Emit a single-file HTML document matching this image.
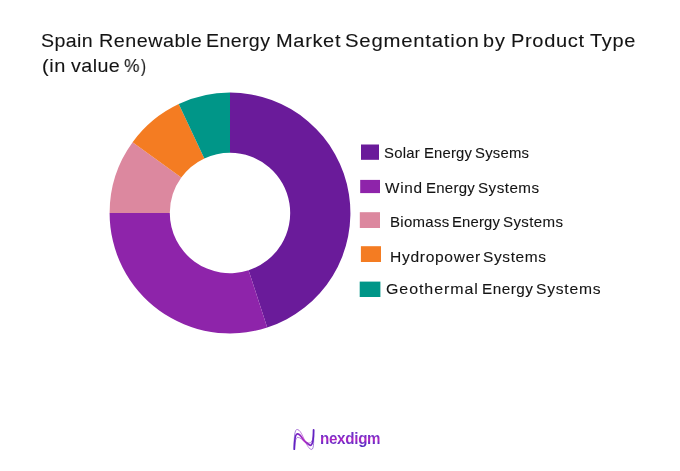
<!DOCTYPE html>
<html><head><meta charset="utf-8">
<style>
html,body{margin:0;padding:0;background:#fff;}
body{width:680px;height:471px;position:relative;overflow:hidden;font-family:"Liberation Sans",sans-serif;color:#141414;}
.w{position:absolute;white-space:nowrap;line-height:1;will-change:transform;-webkit-text-stroke:0.1px #141414;}
.sq{position:absolute;}
svg{position:absolute;left:0;top:0;}
.logo{position:absolute;left:320px;top:431px;font-size:16px;font-weight:bold;line-height:1;letter-spacing:-0.33px;transform:scaleX(0.95);transform-origin:0 0;white-space:nowrap;
background:linear-gradient(180deg,#7030c8 0%,#7030c8 28%,#b524c2 56%,#6a2cc6 74%,#4e28c0 100%);-webkit-background-clip:text;background-clip:text;color:transparent;}
</style></head><body>
<svg width="680" height="471" viewBox="0 0 680 471">
<path d="M230.00,92.60A120.4,120.4 0 0 1 267.21,327.51L248.60,270.25A60.2,60.2 0 0 0 230.00,152.80Z" fill="#6a1b9a"/>
<path d="M267.21,327.51A120.4,120.4 0 0 1 109.60,213.00L169.80,213.00A60.2,60.2 0 0 0 248.60,270.25Z" fill="#8e24aa"/>
<path d="M109.60,213.00A120.4,120.4 0 0 1 132.59,142.23L181.30,177.62A60.2,60.2 0 0 0 169.80,213.00Z" fill="#dc889f"/>
<path d="M132.59,142.23A120.4,120.4 0 0 1 178.74,104.06L204.37,158.53A60.2,60.2 0 0 0 181.30,177.62Z" fill="#f47c22"/>
<path d="M178.74,104.06A120.4,120.4 0 0 1 230.00,92.60L230.00,152.80A60.2,60.2 0 0 0 204.37,158.53Z" fill="#009688"/>
<rect x="361" y="144.5" width="18" height="15.3" fill="#6a1b9a"/>
<rect x="360.2" y="179.9" width="19.8" height="13.2" fill="#8e24aa"/>
<rect x="359.8" y="212.2" width="20.2" height="15.8" fill="#dc889f"/>
<rect x="360.9" y="246.2" width="20.1" height="15.8" fill="#f47c22"/>
<rect x="359.7" y="281.6" width="20.7" height="15.4" fill="#009688"/>
</svg>
<span class="w" style="left:41.07px;top:31px;font-size:19px;letter-spacing:0.363px;transform:scaleX(1.031);transform-origin:0 0">Spain</span>
<span class="w" style="left:98.56px;top:31px;font-size:19px;letter-spacing:0.463px;transform:scaleX(1.040);transform-origin:0 0">Renewable</span>
<span class="w" style="left:206.17px;top:31px;font-size:19px;letter-spacing:0.360px;transform:scaleX(1.031);transform-origin:0 0">Energy</span>
<span class="w" style="left:275.55px;top:31px;font-size:19px;letter-spacing:0.620px;transform:scaleX(1.054);transform-origin:0 0">Market</span>
<span class="w" style="left:345.03px;top:31px;font-size:19px;letter-spacing:0.723px;transform:scaleX(1.069);transform-origin:0 0">Segmentation</span>
<span class="w" style="left:483.21px;top:31px;font-size:19px;letter-spacing:0.825px;transform:scaleX(1.043);transform-origin:0 0">by</span>
<span class="w" style="left:510.74px;top:31px;font-size:19px;letter-spacing:0.608px;transform:scaleX(1.056);transform-origin:0 0">Product</span>
<span class="w" style="left:590.20px;top:31px;font-size:19px;letter-spacing:0.675px;transform:scaleX(1.051);transform-origin:0 0">Type</span>
<span class="w" style="left:42.05px;top:56px;font-size:19px;letter-spacing:0.500px;transform:scaleX(1.053);transform-origin:0 0">(in</span>
<span class="w" style="left:70.70px;top:56px;font-size:19px;letter-spacing:0.412px;transform:scaleX(1.037);transform-origin:0 0">value</span>
<span class="w" style="left:124.39px;top:56px;font-size:19px;transform:scaleX(0.913);transform-origin:0 0">%</span>
<span class="w" style="left:140.85px;top:56px;font-size:19px;transform:scaleX(0.790);transform-origin:0 0">)</span>
<span class="w" style="left:383.57px;top:146px;font-size:14.5px;letter-spacing:0.225px;transform:scaleX(1.027);transform-origin:0 0">Solar</span>
<span class="w" style="left:423.88px;top:146px;font-size:14.5px;letter-spacing:0.195px;transform:scaleX(1.022);transform-origin:0 0">Energy</span>
<span class="w" style="left:474.88px;top:146px;font-size:14.5px;letter-spacing:0.240px;transform:scaleX(1.024);transform-origin:0 0">Sysems</span>
<span class="w" style="left:385.30px;top:181px;font-size:14.5px;letter-spacing:0.633px;transform:scaleX(1.059);transform-origin:0 0">Wind</span>
<span class="w" style="left:426.27px;top:181px;font-size:14.5px;letter-spacing:0.280px;transform:scaleX(1.031);transform-origin:0 0">Energy</span>
<span class="w" style="left:478.15px;top:181px;font-size:14.5px;letter-spacing:0.442px;transform:scaleX(1.049);transform-origin:0 0">Systems</span>
<span class="w" style="left:389.52px;top:215px;font-size:14.5px;letter-spacing:0.296px;transform:scaleX(1.033);transform-origin:0 0">Biomass</span>
<span class="w" style="left:451.98px;top:215px;font-size:14.5px;letter-spacing:0.200px;transform:scaleX(1.022);transform-origin:0 0">Energy</span>
<span class="w" style="left:502.96px;top:215px;font-size:14.5px;letter-spacing:0.350px;transform:scaleX(1.039);transform-origin:0 0">Systems</span>
<span class="w" style="left:389.93px;top:250px;font-size:14.5px;letter-spacing:0.639px;transform:scaleX(1.075);transform-origin:0 0">Hydropower</span>
<span class="w" style="left:482.93px;top:250px;font-size:14.5px;letter-spacing:0.592px;transform:scaleX(1.066);transform-origin:0 0">Systems</span>
<span class="w" style="left:385.90px;top:282px;font-size:14.5px;letter-spacing:0.839px;transform:scaleX(1.102);transform-origin:0 0">Geothermal</span>
<span class="w" style="left:481.85px;top:282px;font-size:14.5px;letter-spacing:0.490px;transform:scaleX(1.054);transform-origin:0 0">Energy</span>
<span class="w" style="left:536.22px;top:282px;font-size:14.5px;letter-spacing:0.708px;transform:scaleX(1.079);transform-origin:0 0">Systems</span>
<svg class="ico" width="680" height="471" viewBox="0 0 680 471">
<defs>
<linearGradient id="ig" gradientUnits="userSpaceOnUse" x1="294" y1="0" x2="314" y2="0"><stop offset="0" stop-color="#5f22c2"/><stop offset="0.5" stop-color="#b02cc4"/><stop offset="1" stop-color="#5f22c2"/></linearGradient>
</defs>
<g fill="none" stroke="url(#ig)" stroke-linecap="round">
<path d="M294.3,449.2 C293.9,441 294.3,431 296.5,429.6 C300,428.5 302.5,436 305,441 C307,445 309,449.4 311.8,449.4 C314,449 313.8,440 313.6,430" stroke-width="0.7" opacity="0.85"/>
<path d="M294.3,449.2 C294.5,441 295,434.5 297,434 C300.5,433.3 302,439 305,441.5 C308,444 309.8,445.8 311,445.2 C313.2,444 313.6,436 313.6,430" stroke-width="1.8"/>
<path d="M294.5,448 C295,442 295.8,437.6 297.6,437.4 C300.5,437.2 302.5,440.5 305.5,442 C308,443.3 310,443.5 311.5,442 C313,440 313.6,434 313.6,431" stroke-width="0.7" opacity="0.85"/>
</g>
</svg>
<div class="logo">nexdigm</div>
</body></html>
